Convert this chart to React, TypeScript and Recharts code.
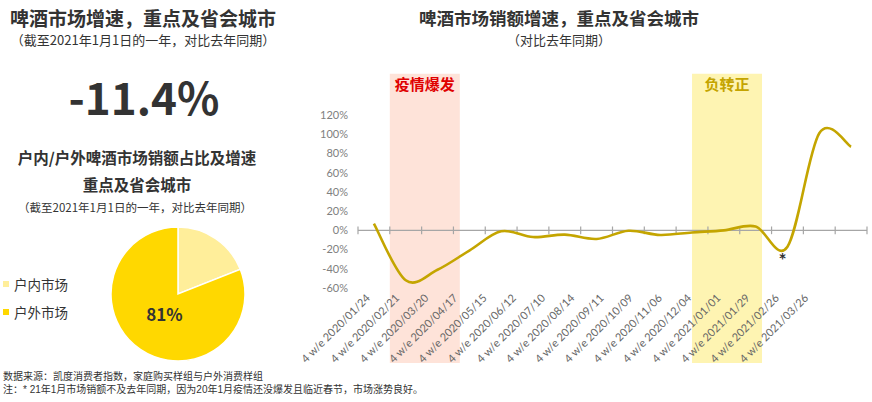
import { LineChart, Line, XAxis, YAxis, ReferenceArea, ReferenceLine, ReferenceDot, PieChart, Pie, Cell } from "recharts";

// monthly periods (4 weeks ending)
const periods = [
  "2020/01/24", "2020/02/21", "2020/03/20", "2020/04/17", "2020/05/15", "2020/06/12",
  "2020/07/10", "2020/08/14", "2020/09/11", "2020/10/09", "2020/11/06", "2020/12/04",
  "2021/01/01", "2021/01/29", "2021/02/26", "2021/03/26",
];
// sales growth vs same period last year, %
const salesGrowth = [7, -52, -41, -21, -1, -7, -4.5, -9, -0.5, -4.8, -2.2, 0, 4, -17, 101, 87];
const growthTicks = [-60, -40, -20, 0, 20, 40, 60, 80, 100, 120];

const phaseNames = ["疫情爆发", "负转正"];
const phaseFrom = [0.5, 10];
const phaseTo = [2.7, 12.2];
const phaseFills = ["#FEE3D9", "#FEF4B2"];
const phaseTextColors = ["#E00000", "#C4A400"];

const channelNames = ["户内市场", "户外市场"];
const channelShare = [19, 81];
const channelColors = ["#FFEE9A", "#FFD800"];

const yearGrowth = "-11.4%";

const notes = [
  "数据来源：凯度消费者指数，家庭购买样组与户外消费样组",
  "注：* 21年1月市场销额不及去年同期，因为20年1月疫情还没爆发且临近春节，市场涨势良好。",
];

const cjk = '"Noto Sans CJK SC", "Noto Sans", sans-serif';
const noteFont = '"Liberation Sans", "Noto Sans CJK SC", sans-serif';
const axisFont = 'Lato, "Open Sans", sans-serif';
const ink = "#333333";

const lineData = periods.map((p, i) => ({ idx: i, period: p, growth: salesGrowth[i] }));
const pieData = channelNames.map((name, i) => ({ name, value: channelShare[i] }));
// category boundaries for the small tick marks on the zero line
const boundaries = [...periods.map((_, i) => i - 0.5), periods.length - 0.5];

// Catmull-Rom style smoothing (passes through every point)
const smoothCurve = (context: any) => {
  let pts: number[][] = [];
  return {
    areaStart() {},
    areaEnd() {},
    lineStart() {
      pts = [];
    },
    point(x: number, y: number) {
      pts.push([+x, +y]);
    },
    lineEnd() {
      const n = pts.length;
      if (!n) return;
      context.moveTo(pts[0][0], pts[0][1]);
      for (let i = 0; i < n - 1; i++) {
        const p0 = pts[i - 1] || pts[i];
        const p1 = pts[i];
        const p2 = pts[i + 1];
        const p3 = pts[i + 2] || p2;
        context.bezierCurveTo(
          p1[0] + (p2[0] - p0[0]) / 6,
          p1[1] + (p2[1] - p0[1]) / 6,
          p2[0] - (p3[0] - p1[0]) / 6,
          p2[1] - (p3[1] - p1[1]) / 6,
          p2[0],
          p2[1]
        );
      }
    },
  };
};

// rotated labels sit a little tighter than the categories, drifting left
const PeriodTick = (props: any) => {
  const { x, y, payload } = props;
  const lx = x - 6 - payload.value * 2.6;
  return (
    <text
      x={lx}
      y={y}
      dy={4}
      transform={`rotate(-45, ${lx}, ${y})`}
      textAnchor="end"
      fill="#666666"
      fontSize={11}
      fontFamily={axisFont}
    >
      {"4 w/e " + periods[payload.value]}
    </text>
  );
};

const RADIAN = Math.PI / 180;
const ShareLabel = (props: any) => {
  const { cx, cy, midAngle, outerRadius, index, value } = props;
  if (index !== 1) return null;
  const r = outerRadius * 0.36;
  const x = cx + r * Math.cos(-midAngle * RADIAN);
  const y = cy + r * Math.sin(-midAngle * RADIAN);
  return (
    <text x={x} y={y} textAnchor="middle" dominantBaseline="central" fill={ink} fontSize={17} fontWeight={700} fontFamily={cjk}>
      {value}%
    </text>
  );
};

const textBlock = (top: number, left: number, width: number, size: number, bold: boolean, align: "left" | "center" = "center") => ({
  position: "absolute" as const,
  top,
  left,
  width,
  fontSize: size,
  lineHeight: `${size + 6}px`,
  fontWeight: bold ? 700 : 400,
  textAlign: align,
  color: ink,
  fontFamily: cjk,
  whiteSpace: "nowrap" as const,
});

export default function App() {
  return (
    <div style={{ position: "fixed", left: 0, top: 0, width: 872, height: 402, background: "#fff", overflow: "hidden" }}>
      <div style={{ position: "absolute", left: 270, top: 0 }}>
        <LineChart width={602} height={402} data={lineData} margin={{ top: 115, right: 5, bottom: 34, left: 38 }}>
          {phaseNames.map((name, i) => (
            <ReferenceArea
              key={name}
              x1={phaseFrom[i]}
              x2={phaseTo[i]}
              y1={-138}
              y2={163}
              ifOverflow="visible"
              fill={phaseFills[i]}
              fillOpacity={1}
              stroke="none"
              label={{
                value: name,
                position: "insideTop",
                offset: 6,
                fill: phaseTextColors[i],
                fontSize: 15,
                fontWeight: 700,
                fontFamily: cjk,
              }}
            />
          ))}
          <XAxis
            dataKey="idx"
            type="number"
            domain={[-0.5, periods.length - 0.5]}
            ticks={periods.map((_, i) => i)}
            interval={0}
            axisLine={false}
            tickLine={false}
            height={80}
            tick={<PeriodTick />}
          />
          <YAxis
            domain={[-60, 120]}
            ticks={growthTicks}
            width={50}
            axisLine={false}
            tickLine={false}
            tickMargin={4}
            tickFormatter={(v: number) => `${v}%`}
            tick={{ fill: "#808080", fontSize: 11, fontFamily: axisFont }}
          />
          <ReferenceLine y={0} stroke="#A6A6A6" strokeWidth={1.2} />
          {boundaries.map((b) => (
            <ReferenceLine
              key={b}
              segment={[
                { x: b, y: -4 },
                { x: b, y: 4 },
              ]}
              stroke="#A6A6A6"
              strokeWidth={1.2}
            />
          ))}
          <Line
            dataKey="growth"
            type={smoothCurve as any}
            stroke="#C4A500"
            strokeWidth={2.6}
            dot={false}
            activeDot={false}
            isAnimationActive={false}
          />
          <ReferenceDot
            x={13}
            y={salesGrowth[13]}
            r={0}
            stroke="none"
            fill="none"
            label={{ value: "*", position: "bottom", offset: 7, dx: -5, fill: ink, fontSize: 19, fontWeight: 700, fontFamily: axisFont }}
          />
        </LineChart>
      </div>

      <div style={{ position: "absolute", left: 0, top: 0 }}>
        <PieChart width={260} height={370} margin={{ top: 0, right: 0, bottom: 0, left: 0 }}>
          <Pie
            data={pieData}
            dataKey="value"
            nameKey="name"
            cx={178}
            cy={294}
            outerRadius={67}
            startAngle={90}
            endAngle={-270}
            stroke="#ffffff"
            strokeWidth={1.5}
            label={<ShareLabel />}
            labelLine={false}
            isAnimationActive={false}
          >
            {pieData.map((d, i) => (
              <Cell key={d.name} fill={channelColors[i]} />
            ))}
          </Pie>
        </PieChart>
      </div>

      {/* left panel text */}
      <div style={textBlock(5, 4, 278, 19, true)}>啤酒市场增速，重点及省会城市</div>
      <div style={textBlock(30, 4, 278, 13, false)}>（截至2021年1月1日的一年，对比去年同期）</div>
      <div style={{ ...textBlock(70, 44, 200, 44, true), lineHeight: "52px", color: "#333" }}>{yearGrowth}</div>
      <div style={textBlock(147, 0, 274, 15.5, true)}>户内/户外啤酒市场销额占比及增速</div>
      <div style={textBlock(174, 0, 274, 15.5, true)}>重点及省会城市</div>
      <div style={textBlock(199, 0, 270, 11.5, false)}>（截至2021年1月1日的一年，对比去年同期）</div>

      {channelNames.map((name, i) => (
        <div key={name} style={{ position: "absolute", left: 3, top: 274 + i * 28, display: "flex", alignItems: "center", fontFamily: cjk, fontSize: 13.5, color: ink, lineHeight: "20px" }}>
          <span style={{ display: "inline-block", width: 6, height: 6, background: channelColors[i], marginRight: 5 }} />
          {name}
        </div>
      ))}

      {/* right panel titles */}
      <div style={textBlock(6, 380, 358, 17.5, true)}>啤酒市场销额增速，重点及省会城市</div>
      <div style={textBlock(30, 380, 358, 13, false)}>（对比去年同期）</div>

      {/* notes */}
      {notes.map((t, i) => (
        <div key={i} style={{ ...textBlock(370 + i * 13, 3, 500, 10, false, "left"), fontFamily: noteFont, lineHeight: "13px", height: 13 }}>
          {t}
        </div>
      ))}
    </div>
  );
}
